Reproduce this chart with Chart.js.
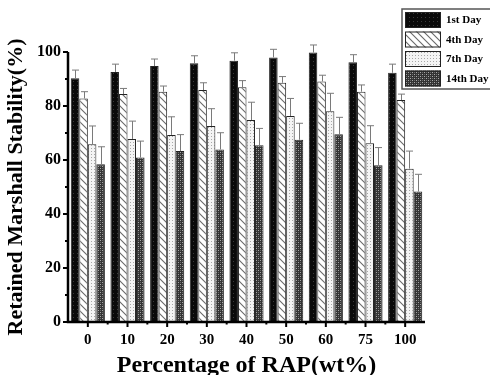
<!DOCTYPE html>
<html>
<head>
  <title>Retained Marshall Stability</title>
  <script src="https://cdn.jsdelivr.net/npm/chart.js"></script>
  <style>
    body { margin: 0; background: #fff; }
    #wrap { width: 490px; height: 375px; }
  </style>
</head>
<body>
  <div id="wrap"><canvas id="chart" width="490" height="375"></canvas></div>
  <script>
    // data
    const rapLabels = ['0', '10', '20', '30', '40', '50', '60', '75', '100'];
    const seriesNames = ['1st Day', '4th Day', '7th Day', '14th Day'];
    const day1 = [90.3, 92.6, 94.8, 95.8, 96.8, 98.0, 99.8, 96.2, 92.3];
    const day4 = [82.8, 84.4, 85.3, 85.9, 86.9, 88.6, 89.1, 85.3, 82.2];
    const day7 = [65.8, 67.8, 69.3, 72.6, 74.8, 76.3, 78.1, 66.2, 56.8];
    const day14 = [58.4, 60.9, 63.3, 63.9, 65.5, 67.5, 69.5, 58.1, 48.3];
    // upper error (added to value)
    const err1 = [3.0, 2.9, 2.6, 2.8, 2.9, 3.0, 2.8, 2.8, 3.2];
    const err4 = [2.5, 2.1, 2.1, 2.7, 2.5, 2.3, 2.3, 2.5, 2.2];
    const err7 = [6.8, 6.6, 6.7, 6.4, 6.6, 6.5, 6.6, 6.5, 6.5];
    const err14 = [6.5, 6.1, 6.1, 6.2, 6.2, 6.1, 6.3, 6.5, 6.4];

    const serif = '"Liberation Serif", "DejaVu Serif", serif';

    // fill patterns
    function makePattern(size, draw) {
      const c = document.createElement('canvas');
      c.width = size; c.height = size;
      const g = c.getContext('2d');
      draw(g, size);
      return document.getElementById('chart').getContext('2d').createPattern(c, 'repeat');
    }
    const patBlack = makePattern(4, (g, s) => {
      g.fillStyle = '#0a0a0a'; g.fillRect(0, 0, s, s);
      g.fillStyle = '#3a3a3a'; g.fillRect(1, 1, 1, 1);
    });
    const patHatch = makePattern(7, (g, s) => {
      g.fillStyle = '#fff'; g.fillRect(0, 0, s, s);
      g.strokeStyle = '#6a6a6a'; g.lineWidth = 1.1;
      g.beginPath();
      g.moveTo(-1, -1); g.lineTo(s + 1, s + 1);
      g.moveTo(-1, s - 1); g.lineTo(1, s + 1);
      g.moveTo(s - 1, -1); g.lineTo(s + 1, 1);
      g.stroke();
    });
    const patDots = makePattern(3, (g, s) => {
      g.fillStyle = '#f4f4f4'; g.fillRect(0, 0, s, s);
      g.fillStyle = '#a8a8a8'; g.fillRect(1, 1, 1, 1);
    });
    const patChecker = makePattern(4, (g, s) => {
      g.fillStyle = '#333'; g.fillRect(0, 0, s, s);
      g.fillStyle = '#a8a8a8'; g.fillRect(0, 0, 1, 1); g.fillRect(2, 2, 1, 1);
      g.fillStyle = '#6a6a6a'; g.fillRect(2, 0, 1, 1); g.fillRect(0, 2, 1, 1);
    });
    const fills = [patBlack, patHatch, patDots, patChecker];
    const values = [day1, day4, day7, day14];
    const errors = [err1, err4, err7, err14];

    // error bars (upper only) in grey
    const errorBars = {
      id: 'errorBars',
      afterDatasetsDraw(chart) {
        const ctx = chart.ctx;
        const y = chart.scales.y;
        ctx.save();
        ctx.strokeStyle = '#7a7a7a';
        ctx.lineWidth = 1;
        chart.data.datasets.forEach((ds, i) => {
          chart.getDatasetMeta(i).data.forEach((bar, j) => {
            const top = y.getPixelForValue(ds.data[j] + errors[i][j]);
            const x = Math.round(bar.x) + 0.5;
            ctx.beginPath();
            ctx.moveTo(x, bar.y);
            ctx.lineTo(x, top);
            ctx.moveTo(x - 3.5, top);
            ctx.lineTo(x + 3.5, top);
            ctx.stroke();
          });
        });
        ctx.restore();
      }
    };

    // axis lines, minor ticks and boxed legend
    const frame = {
      id: 'frame',
      afterDraw(chart) {
        const ctx = chart.ctx;
        const a = chart.chartArea;
        const x = chart.scales.x, y = chart.scales.y;
        ctx.save();
        ctx.strokeStyle = '#000';
        ctx.lineWidth = 2.5;
        ctx.beginPath();
        ctx.moveTo(a.left, a.top);
        ctx.lineTo(a.left, a.bottom);
        ctx.lineTo(a.right, a.bottom);
        ctx.stroke();
        // y ticks every 10, outward
        ctx.lineWidth = 2;
        for (let v = 0; v <= 100; v += 10) {
          const py = Math.round(y.getPixelForValue(v));
          ctx.beginPath();
          ctx.moveTo(a.left - (v % 20 === 0 ? 5 : 3), py);
          ctx.lineTo(a.left, py);
          ctx.stroke();
        }
        // x ticks at categories and small ones between
        for (let i = 0; i < rapLabels.length; i++) {
          const px = x.getPixelForValue(i);
          ctx.beginPath();
          ctx.moveTo(px, a.bottom);
          ctx.lineTo(px, a.bottom + 5);
          ctx.stroke();
          if (i > 0) {
            const mx = (px + x.getPixelForValue(i - 1)) / 2;
            ctx.beginPath();
            ctx.moveTo(mx, a.bottom);
            ctx.lineTo(mx, a.bottom + 2.5);
            ctx.stroke();
          }
        }
        // legend
        const lx = 402, ly = 9, rowH = 19.5;
        ctx.fillStyle = '#fff';
        ctx.fillRect(lx, ly, 92, rowH * 4 + 2);
        ctx.lineWidth = 1.5;
        ctx.strokeStyle = '#555';
        ctx.strokeRect(lx, ly, 92, rowH * 4 + 2);
        ctx.font = 'bold 11px ' + serif;
        ctx.textBaseline = 'middle';
        seriesNames.forEach((name, i) => {
          const sy = ly + 3 + i * rowH;
          ctx.fillStyle = fills[i];
          ctx.fillRect(lx + 3, sy, 36, 16);
          ctx.lineWidth = 1;
          ctx.strokeStyle = '#222';
          ctx.strokeRect(lx + 3.5, sy + 0.5, 35, 15);
          ctx.fillStyle = '#000';
          ctx.fillText(name, lx + 44, sy + 8.5);
        });
        ctx.restore();
      }
    };

    new Chart(document.getElementById('chart'), {
      type: 'bar',
      data: {
        labels: rapLabels,
        datasets: seriesNames.map((name, i) => ({
          label: name,
          data: values[i],
          backgroundColor: fills[i],
          borderColor: '#222',
          borderWidth: 1,
          barPercentage: 1.0,
          categoryPercentage: 0.86
        }))
      },
      options: {
        responsive: false,
        animation: false,
        layout: { padding: { top: 52, right: 65, left: 0, bottom: 0 } },
        plugins: {
          legend: { display: false },
          tooltip: { enabled: false }
        },
        scales: {
          x: {
            grid: { display: false, drawTicks: false },
            border: { display: false },
            ticks: {
              color: '#000',
              font: { family: serif, size: 15, weight: 'bold' },
              padding: 9,
              maxRotation: 0
            },
            title: {
              display: true,
              text: 'Percentage of RAP(wt%)',
              color: '#000',
              font: { family: serif, size: 24, weight: 'bold' },
              padding: { top: 0, bottom: -5 }
            },
            afterFit(s) { s.height = 53; }
          },
          y: {
            min: 0,
            max: 100,
            grid: { display: false, drawTicks: false },
            border: { display: false },
            ticks: {
              stepSize: 20,
              color: '#000',
              font: { family: serif, size: 16, weight: 'bold' },
              padding: 7
            },
            title: {
              display: true,
              text: 'Retained Marshall Stability(%)',
              color: '#000',
              font: { family: serif, size: 22, weight: 'bold' },
              padding: { top: 3, bottom: 0 }
            },
            afterFit(s) { s.width = 68; }
          }
        }
      },
      plugins: [errorBars, frame]
    });
  </script>
</body>
</html>
